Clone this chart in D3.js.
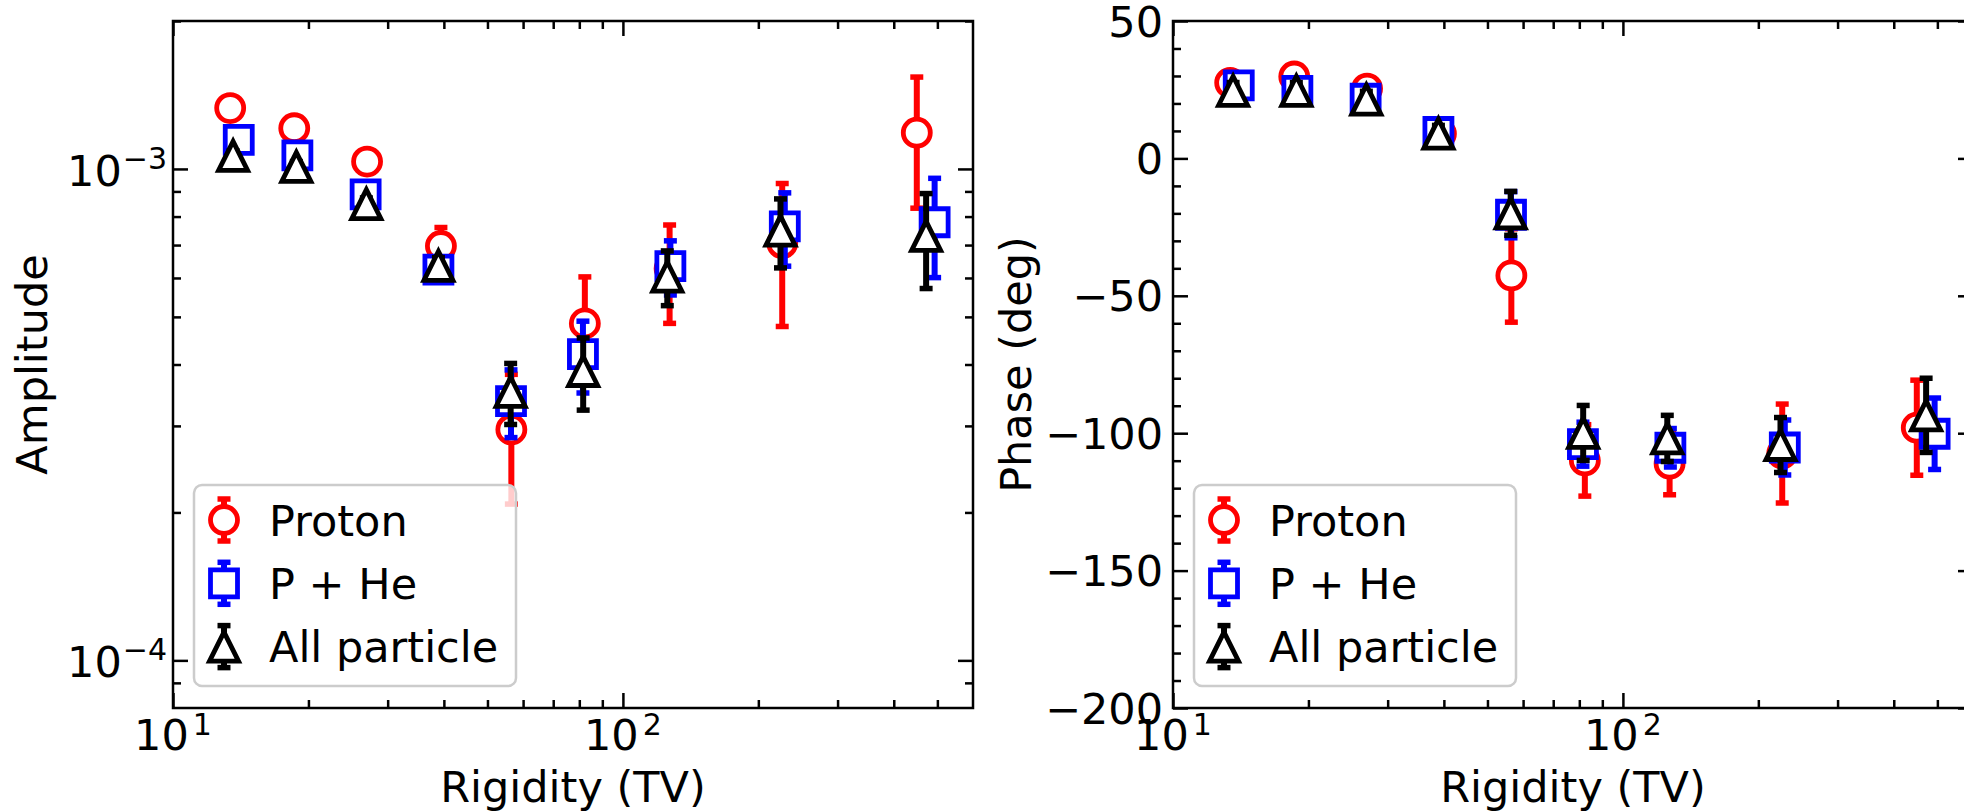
<!DOCTYPE html>
<html><head><meta charset="utf-8">
<script src="https://cdn.jsdelivr.net/npm/d3@7"></script>
<style>
body{margin:0;background:#fff}
svg text{font-family:"DejaVu Sans",sans-serif;fill:#000}
</style>
</head><body>
<svg id="chart" width="1964" height="812"></svg>
<script>
// ---------------- data ----------------
const seriesNames = ["Proton", "P + He", "All particle"];
const seriesColors = ["#ff0000", "#0000ff", "#000000"];
const seriesShapes = ["circle", "square", "triangle"];

// rigidity (TV) of each point, per series (slightly offset in the original)
const rigProton = [13.4, 18.6, 27.0, 39.4, 56.5, 82.3, 127, 226, 450];
const rigPHe    = [14.0, 18.9, 26.8, 38.9, 56.4, 81.5, 127.5, 229, 493];
const rigAll    = [13.6, 18.8, 26.9, 38.9, 56.3, 81.6, 125.5, 224, 472];

// amplitude
const ampProton    = [1.33e-3, 1.21e-3, 1.035e-3, 6.97e-4, 2.95e-4, 4.85e-4, 6.27e-4, 7.06e-4, 1.185e-3];
const ampProtonErr = [4e-5, 4e-5, 4e-5, 6.3e-5, 8.7e-5, 1.18e-4, 1.42e-4, 2.28e-4, 3.53e-4];
const ampPHe       = [1.146e-3, 1.066e-3, 8.88e-4, 6.24e-4, 3.37e-4, 4.2e-4, 6.34e-4, 7.64e-4, 7.79e-4];
const ampPHeErr    = [3e-5, 3e-5, 3e-5, 3e-5, 5.3e-5, 7e-5, 8e-5, 1.3e-4, 1.78e-4];
const ampAll       = [1.063e-3, 1.01e-3, 8.48e-4, 6.35e-4, 3.52e-4, 3.88e-4, 6.04e-4, 7.49e-4, 7.31e-4];
const ampAllErr    = [2.5e-5, 2.5e-5, 2.5e-5, 2.5e-5, 5e-5, 6.5e-5, 7.7e-5, 1.2e-4, 1.6e-4];

// phase (deg)
const phaseProton    = [27.5, 29.8, 25.4, 9.0, -42.6, -109.9, -111.1, -107.4, -98.0];
const phaseProtonErr = [3, 3, 3, 3, 17, 13, 11.3, 18, 17.3];
const phasePHe       = [26.6, 24.6, 21.7, 9.6, -20.5, -104.0, -105.3, -105.2, -100.2];
const phasePHeErr    = [3, 3, 3, 3, 8.4, 8, 7, 10, 13];
const phaseAll       = [24.6, 24.6, 21.4, 9.0, -20.0, -99.9, -101.9, -104.3, -93.5];
const phaseAllErr    = [3, 3, 3, 3, 8, 10, 8.4, 10, 13.5];

// ticks
const xMajorTicks = [10, 100];
const xMajorExp = ["1", "2"];
const xMinorTicks = [20, 30, 40, 50, 60, 70, 80, 90, 200, 300, 400, 500];
const ampMajorTicks = [1e-4, 1e-3];
const ampMajorExp = ["\u22124", "\u22123"];
const ampMinorTicks = [9e-5, 2e-4, 3e-4, 4e-4, 5e-4, 6e-4, 7e-4, 8e-4, 9e-4, 2e-3];
const phaseMajorTicks = [-200, -150, -100, -50, 0, 50];
const phaseMinorTicks = [-190, -180, -170, -160, -140, -130, -120, -110, -90, -80, -70, -60, -40, -30, -20, -10, 10, 20, 30, 40];

const xLabel = "Rigidity (TV)";
const ampLabel = "Amplitude";
const phaseLabel = "Phase (deg)";

// ---------------- layout ----------------
const svg = d3.select("#chart");
const TOP = 21, BOTTOM = 708;
const FS = 43, SUP = 30;
const MAJ = 15, MIN = 8;
const LW = 2.5;
const BARW = 6;

const panels = [
  {
    left: 173, right: 973,
    y: d3.scaleLog().domain([8e-5, 2e-3]).range([BOTTOM, TOP]),
    yMajor: ampMajorTicks, yMinor: ampMinorTicks, yExp: ampMajorExp, ylog: true,
    ylabel: ampLabel, ylabelX: 47,
    series: [
      {x: rigProton, v: ampProton, e: ampProtonErr},
      {x: rigPHe, v: ampPHe, e: ampPHeErr},
      {x: rigAll, v: ampAll, e: ampAllErr}
    ]
  },
  {
    left: 1173, right: 1973,
    y: d3.scaleLinear().domain([-200, 50]).range([BOTTOM, TOP]),
    yMajor: phaseMajorTicks, yMinor: phaseMinorTicks, ylog: false,
    ylabel: phaseLabel, ylabelX: 1031,
    series: [
      {x: rigProton, v: phaseProton, e: phaseProtonErr},
      {x: rigPHe, v: phasePHe, e: phasePHeErr},
      {x: rigAll, v: phaseAll, e: phaseAllErr}
    ]
  }
];

function markerPath(shape) {
  if (shape === "circle") { const r = 13.5; return `M${-r},0A${r},${r} 0 1,0 ${r},0A${r},${r} 0 1,0 ${-r},0Z`; }
  if (shape === "square") { const s = 13.5; return `M${-s},${-s}H${s}V${s}H${-s}Z`; }
  const h = 14.5; return `M0,${-h}L${h},${h}L${-h},${h}Z`;
}
const CAP = 6.5;

function drawErrMarker(g, cx, cyTop, cyBot, cy, k) {
  const col = seriesColors[k];
  g.append("line").attr("x1", cx).attr("x2", cx).attr("y1", cyTop).attr("y2", cyBot)
    .attr("stroke", col).attr("stroke-width", BARW);
  [cyTop, cyBot].forEach(yy => g.append("line").attr("x1", cx - CAP).attr("x2", cx + CAP)
    .attr("y1", yy).attr("y2", yy).attr("stroke", col).attr("stroke-width", 5.5));
  g.append("path").attr("d", markerPath(seriesShapes[k]))
    .attr("transform", `translate(${cx},${cy})`)
    .attr("fill", "#fff").attr("stroke", col).attr("stroke-width", 4.8)
    .attr("stroke-linejoin", "miter").attr("stroke-miterlimit", 10);
}

panels.forEach(p => {
  const x = d3.scaleLog().domain([10, 600]).range([p.left, p.right]);
  const y = p.y;
  const g = svg.append("g");

  // data
  p.series.forEach((s, k) => {
    const sg = g.append("g");
    s.x.forEach((xv, i) => {
      drawErrMarker(sg, x(xv), y(s.v[i] + s.e[i]), y(s.v[i] - s.e[i]), y(s.v[i]), k);
    });
  });

  // ticks via d3 axes (inward)
  const styleAxis = sel => { sel.select(".domain").remove(); sel.selectAll("line").attr("stroke", "#000").attr("stroke-width", LW); sel.selectAll("text").remove(); };
  g.append("g").attr("transform", `translate(0,${BOTTOM})`).call(d3.axisBottom(x).tickValues(xMajorTicks).tickSize(-MAJ).tickFormat("")).call(styleAxis);
  g.append("g").attr("transform", `translate(0,${BOTTOM})`).call(d3.axisBottom(x).tickValues(xMinorTicks).tickSize(-MIN).tickFormat("")).call(styleAxis);
  g.append("g").attr("transform", `translate(0,${TOP})`).call(d3.axisTop(x).tickValues(xMajorTicks).tickSize(-MAJ).tickFormat("")).call(styleAxis);
  g.append("g").attr("transform", `translate(0,${TOP})`).call(d3.axisTop(x).tickValues(xMinorTicks).tickSize(-MIN).tickFormat("")).call(styleAxis);
  g.append("g").attr("transform", `translate(${p.left},0)`).call(d3.axisLeft(y).tickValues(p.yMajor).tickSize(-MAJ).tickFormat("")).call(styleAxis);
  g.append("g").attr("transform", `translate(${p.left},0)`).call(d3.axisLeft(y).tickValues(p.yMinor).tickSize(-MIN).tickFormat("")).call(styleAxis);
  g.append("g").attr("transform", `translate(${p.right},0)`).call(d3.axisRight(y).tickValues(p.yMajor).tickSize(-MAJ).tickFormat("")).call(styleAxis);
  g.append("g").attr("transform", `translate(${p.right},0)`).call(d3.axisRight(y).tickValues(p.yMinor).tickSize(-MIN).tickFormat("")).call(styleAxis);

  // frame
  g.append("rect").attr("x", p.left).attr("y", TOP).attr("width", p.right - p.left).attr("height", BOTTOM - TOP)
    .attr("fill", "none").attr("stroke", "#000").attr("stroke-width", LW);

  // x tick labels (10^n)
  xMajorTicks.forEach((t, i) => {
    const tx = g.append("text").attr("x", x(t)).attr("y", 750).attr("text-anchor", "middle").attr("font-size", FS);
    tx.append("tspan").text("10");
    tx.append("tspan").attr("font-size", SUP).attr("dx", 4).attr("dy", -15).text(xMajorExp[i]);
  });

  // y tick labels
  p.yMajor.forEach((t, i) => {
    if (p.ylog) {
      const tx = g.append("text").attr("x", p.left - 6).attr("y", y(t) + 17).attr("text-anchor", "end").attr("font-size", FS);
      tx.append("tspan").text("10");
      tx.append("tspan").attr("font-size", SUP).attr("dx", 1).attr("dy", -17).text(p.yExp[i]);
    } else {
      g.append("text").attr("x", p.left - 10).attr("y", y(t) + 15.5).attr("text-anchor", "end").attr("font-size", FS)
        .text(d3.format("")(t).replace("-", "\u2212"));
    }
  });

  // axis labels
  g.append("text").attr("x", (p.left + p.right) / 2).attr("y", 802)
    .attr("text-anchor", "middle").attr("font-size", FS).text(xLabel);
  g.append("text").attr("transform", `translate(${p.ylabelX},${(TOP + BOTTOM) / 2}) rotate(-90)`)
    .attr("text-anchor", "middle").attr("font-size", FS).text(p.ylabel);

  // legend
  const lx = p.left + 21, ly = 485;
  const lg = g.append("g");
  lg.append("rect").attr("x", lx).attr("y", ly).attr("width", 322).attr("height", 201).attr("rx", 8).attr("ry", 8)
    .attr("fill", "#fff").attr("fill-opacity", 0.8).attr("stroke", "#cccccc").attr("stroke-width", 2.5);
  seriesNames.forEach((name, k) => {
    const cy = ly + 35 + k * 63.3;
    drawErrMarker(lg, lx + 30, cy - 21, cy + 21, cy, k);
    lg.append("text").attr("x", lx + 75).attr("y", cy + 15.5).attr("font-size", FS).text(name);
  });
});
</script>
</body></html>
